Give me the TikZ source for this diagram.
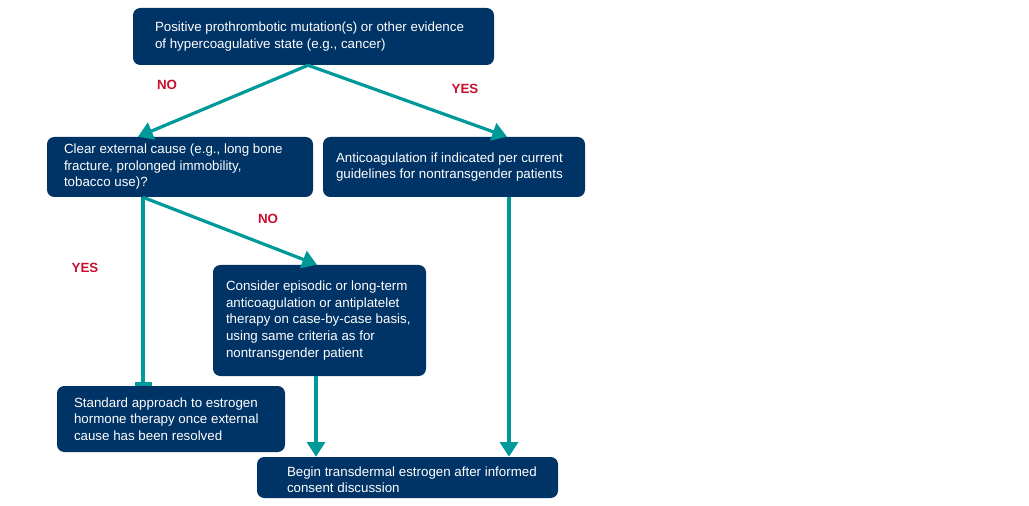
\documentclass[tikz,border=0pt]{standalone}
\usepackage{fontspec}
\setmainfont{Liberation Sans}
\usetikzlibrary{arrows.meta}
\definecolor{navy}{HTML}{003366}
\definecolor{flowteal}{HTML}{00999A}
\definecolor{labelred}{HTML}{C8102E}
\begin{document}
\begin{tikzpicture}[x=0.75pt,y=-0.75pt,
  box/.style={fill=navy, rounded corners=5.5pt, inner sep=0pt},
  txt/.style={text=white, align=left, inner sep=0pt, anchor=west,
    font=\fontsize{10}{12.4}\selectfont},
  flow/.style={draw=flowteal, line width=2.4pt,
    -{Triangle[width=13.5pt,length=11pt]}},
  stop/.style={draw=flowteal, line width=2.4pt,
    -{Rectangle[length=3pt,width=12.75pt]}},
  ans/.style={text=labelred, inner sep=0pt,
    font=\fontsize{10}{12}\selectfont\bfseries}]
\useasboundingbox (0,0) rectangle (1029,506);

% decision and action boxes
\node[box, minimum width=270.75pt, minimum height=42.75pt] (top) at (313.5,36.5) {};
\node[txt] (topt) at ([xshift=16.5pt]top.west)
  {Positive prothrombotic mutation(s) or other evidence\\of hypercoagulative state (e.g., cancer)};

\node[box, minimum width=199.5pt, minimum height=45pt] (clear) at (180,167) {};
\node[txt] (cleart) at ([xshift=12.75pt]clear.west)
  {Clear external cause (e.g., long bone\\fracture, prolonged immobility,\\tobacco use)?};

\node[box, minimum width=196.5pt, minimum height=45pt] (anti) at (454,167) {};
\node[txt] (antit) at ([xshift=9.75pt]anti.west)
  {Anticoagulation if indicated per current\\guidelines for nontransgender patients};

\node[box, minimum width=159.75pt, minimum height=83.25pt] (consider) at (319.5,320.5) {};
\node[txt] (considert) at ([xshift=9.75pt]consider.west)
  {Consider episodic or long-term\\anticoagulation or antiplatelet\\therapy on case-by-case basis,\\using same criteria as for\\nontransgender patient};

\node[box, minimum width=171pt, minimum height=49.5pt] (standard) at (171,419) {};
\node[txt] (standardt) at ([xshift=12.75pt]standard.west)
  {Standard approach to estrogen\\hormone therapy once external\\cause has been resolved};

\node[box, minimum width=225.75pt, minimum height=30.75pt] (begin) at (407.5,477.5) {};
\node[txt] (begint) at ([xshift=22.5pt,yshift=-1.5pt]begin.west)
  {Begin transdermal estrogen after informed\\consent discussion};

% connectors
\coordinate (split) at ([xshift=-4.1pt]top.south);
\draw[flow] (split) -- ([xshift=-31.5pt]clear.north);
\draw[flow] (split) -- ([xshift=39.75pt]anti.north);

\coordinate (fork) at ([xshift=-27.75pt]clear.south);
\draw[stop] (fork) -- (fork |- standard.north);
\draw[flow] (fork) -- ([xshift=-1.9pt]consider.north);

\coordinate (cdown) at ([xshift=-2.6pt]consider.south);
\draw[flow] (cdown) -- (cdown |- begin.north);

\coordinate (adown) at ([xshift=41.25pt]anti.south);
\draw[flow] (adown) -- (adown |- begin.north);

% answer labels
\node[ans] (no1) at (167,85) {NO};
\node[ans] (yes1) at (465,89) {YES};
\node[ans] (no2) at (268,219) {NO};
\node[ans] (yes2) at (85,268) {YES};
\end{tikzpicture}
\end{document}
